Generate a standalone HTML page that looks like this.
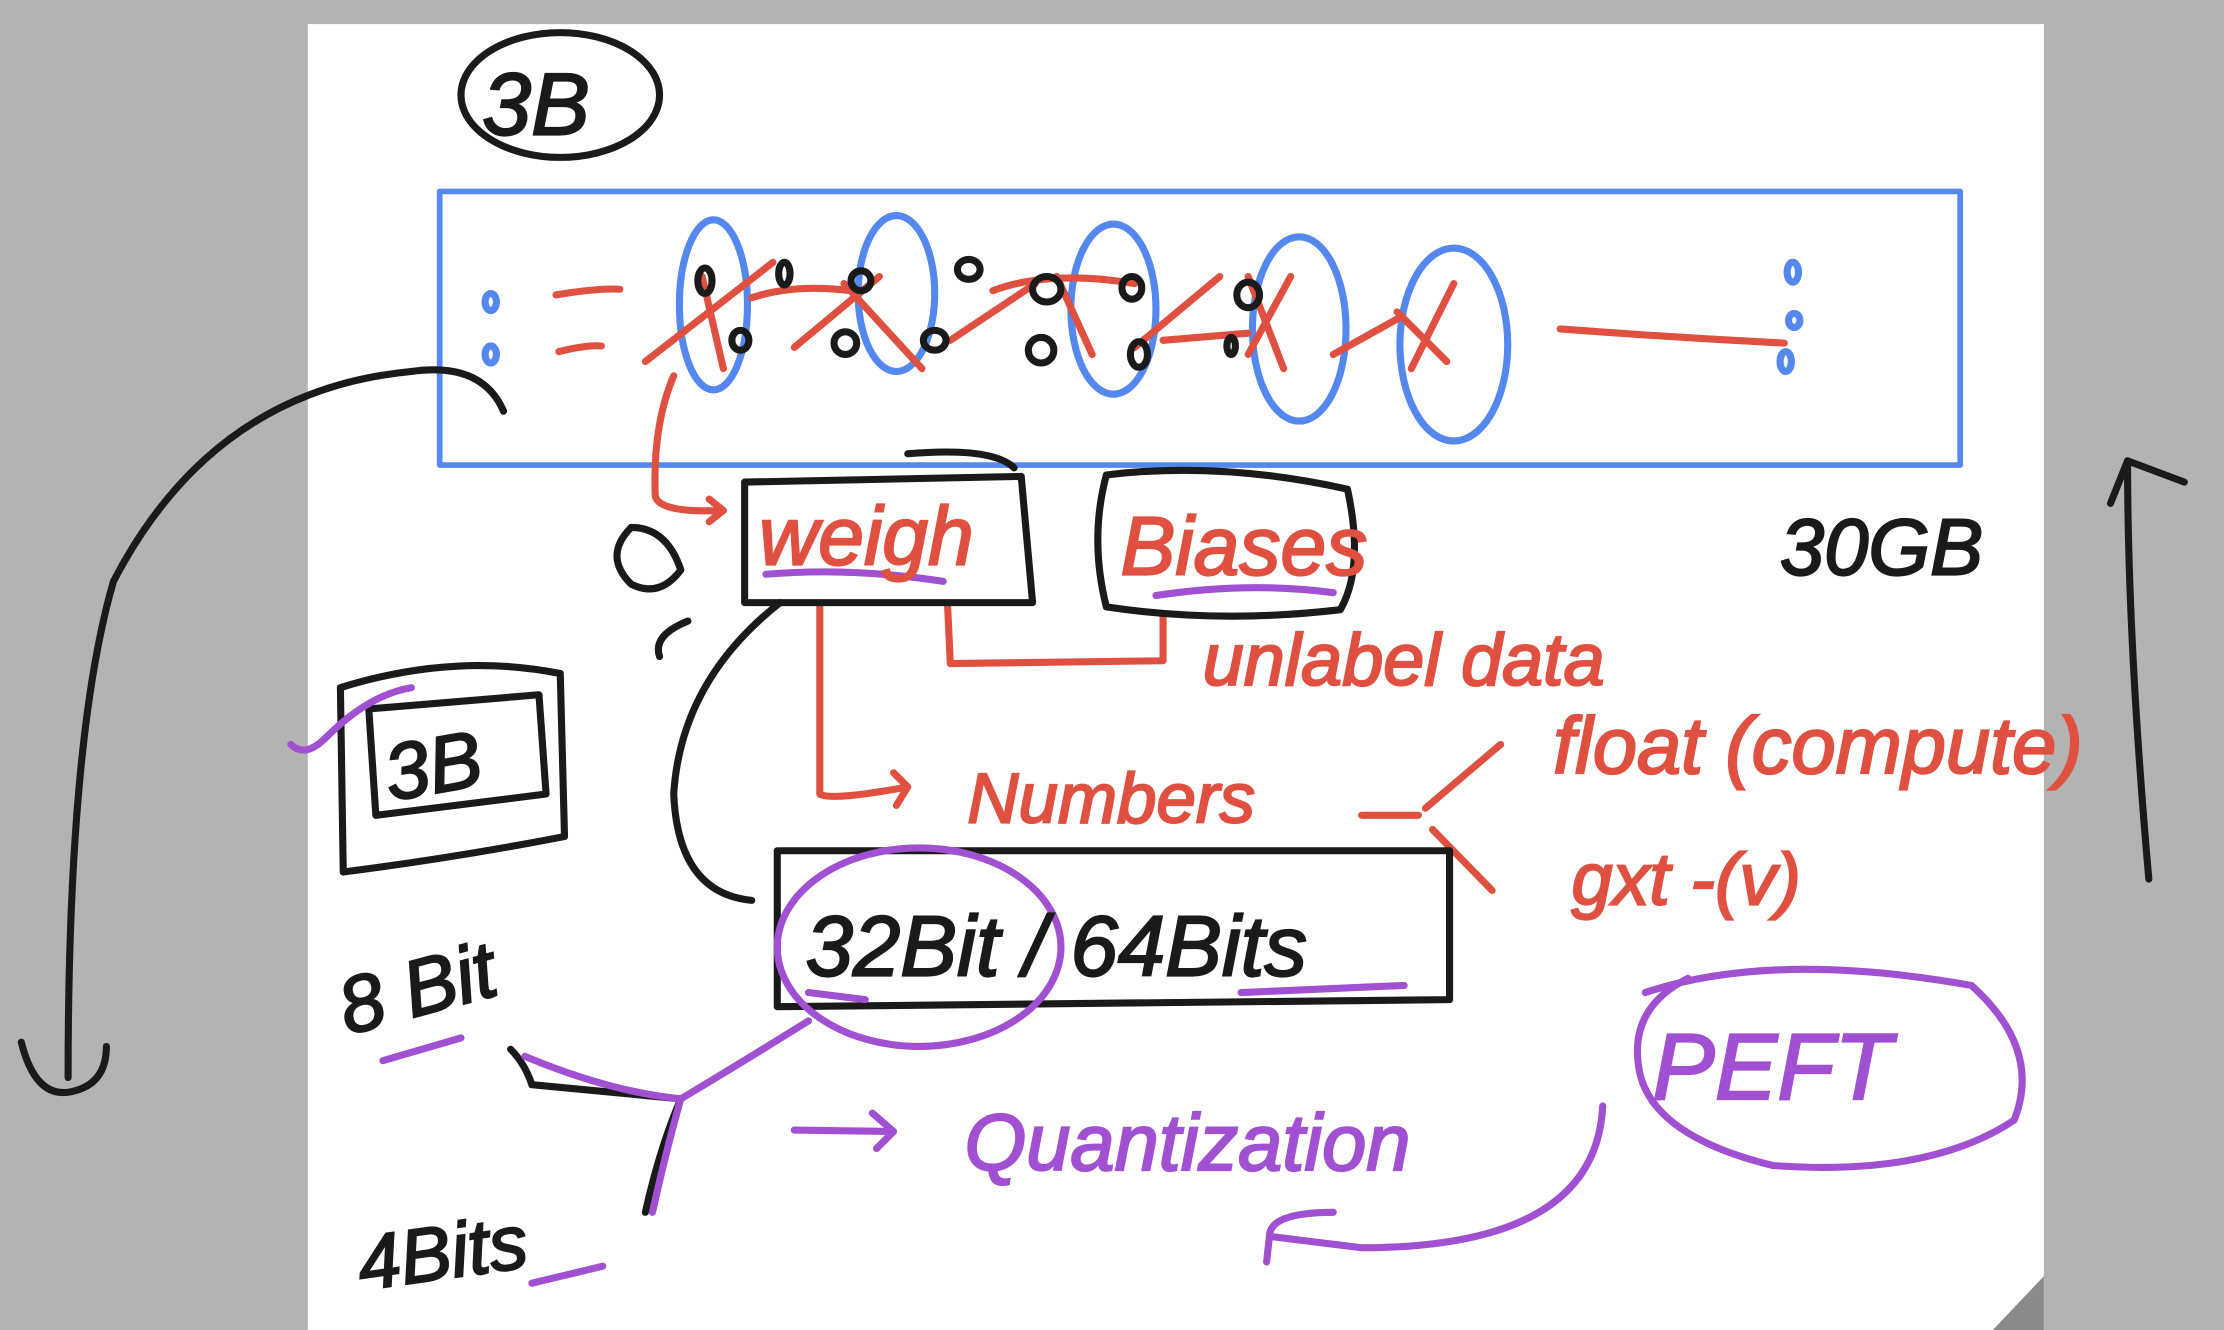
<!DOCTYPE html>
<html><head><meta charset="utf-8"><style>
html,body{margin:0;padding:0;background:#b3b3b3;}
svg{display:block}
text{font-family:"Liberation Sans",sans-serif;font-style:italic;stroke-width:1.5;paint-order:stroke}
</style></head><body>
<svg width="2224" height="1330" viewBox="0 0 1568 938" preserveAspectRatio="none" xmlns="http://www.w3.org/2000/svg">
<rect x="0" y="0" width="1568" height="938" fill="#b3b3b3"/>
<rect x="217" y="17" width="1224" height="921" fill="#fff"/>
<polygon points="1405,938 1441,938 1441,900" fill="#8a8a8a"/>
<g fill="none" stroke-linecap="round" stroke-linejoin="round">
<ellipse cx="395" cy="67" rx="70" ry="44" stroke="#1a1a1a" stroke-width="5"/>
<rect x="310" y="135" width="1072" height="193" stroke="#5588ee" stroke-width="4"/>
<g stroke="#5588ee" stroke-width="5">
<ellipse cx="503" cy="215" rx="24" ry="60"/>
<ellipse cx="632" cy="207" rx="27" ry="55"/>
<ellipse cx="785" cy="218" rx="30" ry="60"/>
<ellipse cx="916" cy="232" rx="33" ry="65"/>
<ellipse cx="1025" cy="243" rx="38" ry="68"/>
<ellipse cx="346" cy="213" rx="4" ry="6"/>
<ellipse cx="346" cy="250" rx="4" ry="6"/>
<ellipse cx="1264" cy="192" rx="4" ry="7"/>
<ellipse cx="1265" cy="226" rx="4" ry="5"/>
<ellipse cx="1259" cy="255" rx="4" ry="7"/>
</g>
<g stroke="#e05040" stroke-width="5">
<path d="M392,208 q30,-5 45,-4 M394,248 q20,-5 30,-4"/>
<path d="M455,255 L545,185 M560,245 L620,195 M670,240 L730,200 M800,245 L860,195 M880,250 L910,195 M940,250 L985,225 M995,260 L1025,200"/>
<path d="M495,195 L510,260 M595,200 L650,260 M745,195 L770,250 M880,195 L905,260 M985,220 L1020,255"/>
<path d="M530,210 Q560,200 600,205 M700,205 Q740,190 800,200 M820,240 L880,235"/>
<path d="M1100,232 Q1180,238 1258,242"/>
<path d="M475,265 Q460,300 462,350 Q465,362 510,360 L500,352 M510,360 L500,368"/>
<path d="M578,425 L578,560 Q585,565 640,555 L630,545 M640,555 L632,568"/>
<path d="M668,425 L670,468 L820,466 L820,435"/>
<path d="M960,575 L1000,575 M1005,570 L1058,525 M1010,585 L1052,628"/>
</g>
<g stroke="#1a1a1a" stroke-width="5">
<ellipse cx="497" cy="198" rx="5" ry="9"/><ellipse cx="553" cy="193" rx="4" ry="8"/><ellipse cx="607" cy="198" rx="7" ry="7"/>
<ellipse cx="522" cy="240" rx="6" ry="7"/><ellipse cx="596" cy="242" rx="8" ry="8"/><ellipse cx="659" cy="240" rx="8" ry="7"/>
<ellipse cx="683" cy="190" rx="8" ry="7"/><ellipse cx="738" cy="204" rx="10" ry="9"/><ellipse cx="734" cy="247" rx="9" ry="9"/>
<ellipse cx="798" cy="203" rx="7" ry="8"/><ellipse cx="803" cy="250" rx="6" ry="9"/><ellipse cx="880" cy="208" rx="8" ry="9"/><ellipse cx="868" cy="244" rx="3" ry="6"/>
<path d="M525,340 L720,336 L728,425 L525,425 Z M640,320 Q700,315 715,330"/>
<path d="M780,335 Q860,325 950,345 Q962,400 945,430 Q860,440 780,428 Q768,380 780,335"/>
<path d="M445,372 q-20,20 0,40 q20,10 35,-10 q-10,-30 -35,-30"/>
<path d="M485,438 q-25,10 -20,25 M550,425 Q480,480 475,560 Q478,630 530,635"/>
<path d="M240,485 Q320,460 395,475 L398,590 Q320,605 242,615 Z M260,500 L380,490 L385,560 L265,575 Z"/>
<path d="M548,600 L1022,600 L1022,705 L548,710 Z"/>
<path d="M355,290 Q340,255 290,262 Q150,275 80,410 Q48,520 48,760 M15,735 Q25,775 50,770 Q75,765 75,738"/>
<path d="M1515,620 Q1500,450 1500,325 L1488,355 M1500,325 L1540,340"/>
<path d="M360,740 q10,10 15,25 L480,775 M480,775 Q465,810 455,855"/>
</g>
<g stroke="#a050d0" stroke-width="5">
<path d="M540,405 Q600,400 665,410 M815,420 Q880,410 940,418 M205,525 Q215,535 230,520 Q260,490 290,485"/>
<ellipse cx="648" cy="668" rx="100" ry="70"/>
<path d="M570,700 L610,705 M875,700 L990,695 M270,748 L325,732 M375,905 L425,893"/>
<path d="M370,745 Q430,770 480,775 Q530,745 570,720 M480,775 Q470,810 460,855"/>
<path d="M560,797 L630,798 L615,785 M630,798 L618,810"/>
<path d="M1160,700 Q1250,670 1390,695 Q1440,740 1420,790 Q1360,830 1250,822 Q1160,800 1155,750 Q1150,710 1190,690"/>
<path d="M1130,780 Q1125,880 960,880 L895,872 M895,872 Q895,855 940,855 M895,872 L893,890"/>
</g>
</g>
<g font-size="58">
<text x="340" y="95" fill="#1a1a1a" stroke="#1a1a1a" font-size="62">3B</text>
<text x="535" y="398" fill="#e05040" stroke="#e05040">weigh</text>
<text x="790" y="405" fill="#e05040" stroke="#e05040">Biases</text>
<text x="848" y="483" fill="#e05040" stroke="#e05040" font-size="52">unlabel data</text>
<text x="682" y="580" fill="#e05040" stroke="#e05040" font-size="50">Numbers</text>
<text x="1095" y="545" fill="#e05040" stroke="#e05040" font-size="56">float (compute)</text>
<text x="1108" y="638" fill="#e05040" stroke="#e05040" font-size="52">gxt -(v)</text>
<text x="1255" y="405" fill="#1a1a1a" stroke="#1a1a1a" font-size="56">30GB</text>
<text x="275" y="565" fill="#1a1a1a" stroke="#1a1a1a" font-size="56" transform="rotate(-10 275 565)">3B</text>
<text x="245" y="730" fill="#1a1a1a" stroke="#1a1a1a" font-size="56" transform="rotate(-15 245 730)">8 Bit</text>
<text x="255" y="910" fill="#1a1a1a" stroke="#1a1a1a" font-size="54" transform="rotate(-8 255 910)">4Bits</text>
<text x="568" y="688" fill="#1a1a1a" stroke="#1a1a1a" font-size="60">32Bit / 64Bits</text>
<text x="680" y="825" fill="#a050d0" stroke="#a050d0" font-size="56">Quantization</text>
<text x="1165" y="775" fill="#a050d0" stroke="#a050d0" font-size="66">PEFT</text>
</g>
</svg>
</body></html>
